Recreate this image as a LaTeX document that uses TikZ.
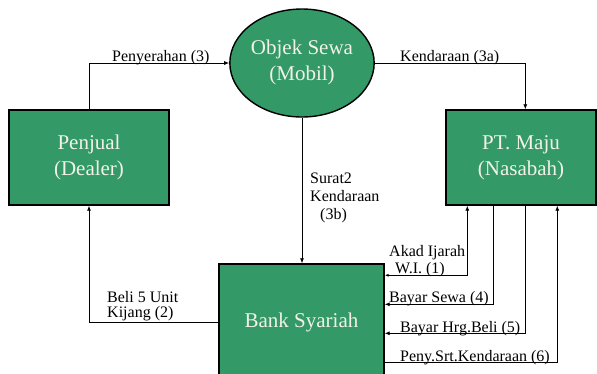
\documentclass[tikz,border=0pt]{standalone}
\usepackage{fontspec}
\setmainfont{Liberation Serif}
\usetikzlibrary{calc,arrows.meta,shapes.geometric}
\definecolor{boxgreen}{RGB}{51,153,102}
\definecolor{boxtext}{RGB}{242,242,232}
\tikzset{
  entity/.style={draw=black, line width=1.4pt, fill=boxgreen, text=boxtext,
    font=\fontsize{21}{26}\selectfont, align=center, inner sep=0pt},
  conn/.style={line width=0.8pt, draw=black},
  arr/.style={conn, -{Latex[length=5pt,width=4pt]}},
  barr/.style={conn, {Latex[length=4pt,width=3pt]}-{Latex[length=5pt,width=4pt]}},
  lbl/.style={font=\fontsize{16}{17}\selectfont, inner sep=0pt, align=left, text=black}
}
\begin{document}
\begin{tikzpicture}[x=1pt,y=-1pt]
\useasboundingbox (0,0) rectangle (597,373);
\node[entity, ellipse, minimum width=134pt, minimum height=108pt, text depth=6pt] (objek) at (302,63) {Objek Sewa\\(Mobil)};
\node[entity, minimum width=160pt, minimum height=95pt] (penjual) at (89,157.5) {Penjual\\(Dealer)};
\node[entity, minimum width=150pt, minimum height=95pt] (pt) at (521,157.5) {PT. Maju\\(Nasabah)};
\node[entity, minimum width=165pt, minimum height=116pt] (bank) at (301.5,322) {Bank Syariah};

% connectors
\draw[arr] (penjual.north) |- (objek.west);
\draw[arr] (objek.east) -| ($(pt.north west)+(80,0)$);
\draw[arr] (objek.south) -- (objek.south |- bank.north);
\draw[arr] (bank.west) -| (penjual.south);
\draw[barr] ($(bank.north east)+(0,12)$) -| ($(pt.south west)+(22,0)$);
\draw[arr] ($(pt.south west)+(48,0)$) |- ($(bank.north east)+(0,41)$);
\draw[arr] ($(pt.south west)+(80,0)$) |- ($(bank.north east)+(0,70)$);
\draw[arr] ($(bank.north east)+(0,99)$) -| ($(pt.south west)+(112,0)$);

% labels
\node[lbl, anchor=base west] (l3) at (112,61) {Penyerahan (3)};
\node[lbl, anchor=base west] (l3a) at (400,61) {Kendaraan (3a)};
\node[lbl, anchor=north west, font=\fontsize{16}{18}\selectfont] (l3b) at (310,173) {Surat2\\Kendaraan\\\hspace*{10pt}(3b)};
\node[lbl, anchor=north west, font=\fontsize{16}{14.6}\selectfont] (l2) at (107,291.5) {Beli 5 Unit\\Kijang (2)};
\node[lbl, anchor=north west] (l1) at (389,245) {Akad Ijarah\\\hspace*{6pt}W.I. (1)};
\node[lbl, anchor=base west] (l4) at (389,302) {Bayar Sewa (4)};
\node[lbl, anchor=base west] (l5) at (400,332) {Bayar Hrg.Beli (5)};
\node[lbl, anchor=base west] (l6) at (400,361) {Peny.Srt.Kendaraan (6)};
\end{tikzpicture}
\end{document}
